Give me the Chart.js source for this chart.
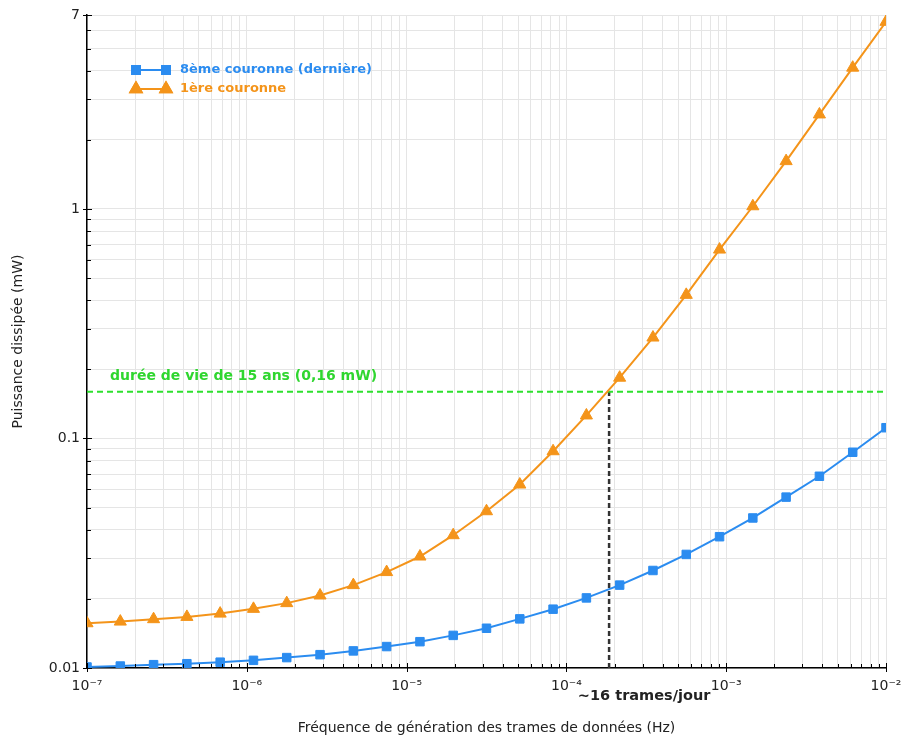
<!DOCTYPE html>
<html lang="fr">
<head>
<meta charset="utf-8">
<title>Puissance dissipée selon la fréquence des trames</title>
<script src="https://cdn.jsdelivr.net/npm/chart.js@4/dist/chart.umd.min.js"></script>
<style>
  html, body { margin: 0; padding: 0; background: #fff; }
  #wrap { width: 905px; height: 741px; }
</style>
</head>
<body>
<div id="wrap"><canvas id="chart" width="905" height="741"></canvas></div>
<script>
// frequency of data frames (Hz), one point every ~0.21 decade
const frequencies = [
  1e-7, 1.616e-7, 2.610e-7, 4.217e-7, 6.813e-7,
  1.101e-6, 1.778e-6, 2.873e-6, 4.642e-6, 7.499e-6,
  1.212e-5, 1.957e-5, 3.162e-5, 5.109e-5, 8.254e-5,
  1.334e-4, 2.154e-4, 3.481e-4, 5.623e-4, 9.085e-4,
  1.468e-3, 2.371e-3, 3.831e-3, 6.190e-3, 1e-2
];

// dissipated power (mW)
const lastRing = [
  0.0101, 0.0102, 0.01034, 0.01044, 0.0106,
  0.0108, 0.0111, 0.01143, 0.01187, 0.0124,
  0.01302, 0.01387, 0.0149, 0.01637, 0.01804,
  0.0202, 0.02297, 0.0266, 0.03125, 0.03733,
  0.04505, 0.05553, 0.06845, 0.0871, 0.1114
];
const firstRing = [
  0.01567, 0.01593, 0.01632, 0.0167, 0.01726,
  0.0181, 0.01917, 0.0207, 0.02297, 0.02618,
  0.0306, 0.0379, 0.0482, 0.063, 0.088,
  0.126, 0.184, 0.2753, 0.4225, 0.6654,
  1.0276, 1.616, 2.581, 4.127, 6.537
];

const seriesNames = ['8ème couronne (dernière)', '1ère couronne'];
const lifetimeLimit = 0.16;        // mW, 15 years
const limitFrequency = 1.85e-4;    // Hz, ~16 frames per day
const lifetimeLabel = 'durée de vie de 15 ans (0,16 mW)';
const limitLabel = '~16 trames/jour';

const xMajorTicks = [1e-7, 1e-6, 1e-5, 1e-4, 1e-3, 1e-2];
const xTickLabels = ['10⁻⁷', '10⁻⁶', '10⁻⁵', '10⁻⁴', '10⁻³', '10⁻²'];
const yMajorTicks = [0.01, 0.1, 1, 7];
const yTickLabels = ['0.01', '0.1', '1', '7'];

const BLUE = '#2b8cf0';
const ORANGE = '#f4941a';
const GREEN = '#2ee02e';
const FONT = '"DejaVu Sans", Verdana, sans-serif';

// 1..9 x 10^e grid positions between min and max
function logGrid(min, max) {
  const out = [];
  for (let e = Math.floor(Math.log10(min)); e <= Math.ceil(Math.log10(max)); e++) {
    for (let d = 1; d <= 9; d++) {
      const v = Number((d * Math.pow(10, e)).toPrecision(3));
      if (v >= min * 0.999 && v <= max * 1.001) out.push(v);
    }
  }
  return out;
}
const xGrid = logGrid(1e-7, 1e-2);
const yGrid = logGrid(0.01, 7);

function majorIndex(list, v) {
  return list.findIndex(m => Math.abs(m - v) / m < 1e-6);
}

const toPoints = (vals) => frequencies.map((f, i) => ({ x: f, y: vals[i] }));

// axis tick marks drawn inside the frame, annotations and legend
const overlay = {
  id: 'overlay',
  afterDatasetsDraw(chart) {
    const { ctx, chartArea: a, scales: { x, y } } = chart;
    ctx.save();
    ctx.strokeStyle = '#000';
    ctx.lineWidth = 1;
    xGrid.forEach(v => {
      const px = Math.round(x.getPixelForValue(v)) + 0.5;
      const major = majorIndex(xMajorTicks, v) >= 0;
      ctx.beginPath();
      ctx.moveTo(px, a.bottom + (major ? 4 : 0));
      ctx.lineTo(px, a.bottom - (major ? 5 : 4));
      ctx.stroke();
    });
    yGrid.forEach(v => {
      const py = Math.round(y.getPixelForValue(v)) + 0.5;
      const major = majorIndex(yMajorTicks, v) >= 0;
      ctx.beginPath();
      ctx.moveTo(a.left - (major ? 4 : 0), py);
      ctx.lineTo(a.left + (major ? 5 : 4), py);
      ctx.stroke();
    });

    // reference labels
    ctx.textBaseline = 'middle';
    ctx.textAlign = 'left';
    ctx.font = 'bold 14px ' + FONT;
    ctx.fillStyle = '#2fd62f';
    ctx.fillText(lifetimeLabel, a.left + 23, y.getPixelForValue(lifetimeLimit) - 15);

    ctx.textAlign = 'center';
    ctx.font = 'bold 14.5px ' + FONT;
    ctx.fillStyle = '#222';
    ctx.fillText(limitLabel, x.getPixelForValue(limitFrequency) + 35, a.bottom + 28);

    // legend
    const items = [
      { name: seriesNames[0], color: BLUE, style: 'rect', r: 5.5, yy: 70 },
      { name: seriesNames[1], color: ORANGE, style: 'triangle', r: 6.5, yy: 89 }
    ];
    ctx.font = 'bold 13px ' + FONT;
    ctx.textAlign = 'left';
    items.forEach(it => {
      ctx.strokeStyle = it.color;
      ctx.lineWidth = 2;
      ctx.beginPath();
      ctx.moveTo(136, it.yy);
      ctx.lineTo(166, it.yy);
      ctx.stroke();
      [136, 166].forEach(cx => {
        Chart.helpers.drawPoint(ctx, { pointStyle: it.style, radius: it.r, borderWidth: 1 }, cx, it.yy);
        ctx.fillStyle = it.color;
        ctx.fill();
        ctx.stroke();
      });
      ctx.fillStyle = it.color;
      ctx.fillText(it.name, 180, it.yy);
    });
    ctx.restore();
  }
};

new Chart(document.getElementById('chart'), {
  type: 'line',
  data: {
    datasets: [
      {
        label: 'limite',
        data: [{ x: 1e-7, y: lifetimeLimit }, { x: 1e-2, y: lifetimeLimit }],
        borderColor: GREEN,
        borderWidth: 2,
        borderDash: [6, 4],
        pointRadius: 0,
        order: 3
      },
      {
        label: 'fréquence limite',
        data: [{ x: limitFrequency, y: 0.01 }, { x: limitFrequency, y: lifetimeLimit }],
        borderColor: '#333',
        borderWidth: 2.5,
        borderDash: [5, 3],
        pointRadius: 0,
        order: 3
      },
      {
        label: seriesNames[0],
        data: toPoints(lastRing),
        borderColor: BLUE,
        backgroundColor: BLUE,
        borderWidth: 2,
        pointStyle: 'rect',
        pointRadius: 6,
        pointBorderWidth: 1,
        order: 1
      },
      {
        label: seriesNames[1],
        data: toPoints(firstRing),
        borderColor: ORANGE,
        backgroundColor: ORANGE,
        borderWidth: 2,
        pointStyle: 'triangle',
        pointRadius: 7,
        pointBorderWidth: 1,
        order: 2
      }
    ]
  },
  options: {
    responsive: false,
    animation: false,
    layout: { padding: { top: 15, right: 19, bottom: 0, left: 0 } },
    plugins: { legend: { display: false }, tooltip: { enabled: false } },
    scales: {
      x: {
        type: 'logarithmic',
        min: 1e-7,
        max: 1e-2,
        afterBuildTicks: (s) => { s.ticks = xGrid.map(v => ({ value: v })); },
        afterFit: (s) => { s.height = 73; s.paddingLeft = 0; s.paddingRight = 0; },
        grid: { color: '#e5e5e5', drawTicks: false },
        border: { color: '#000', width: 1.5 },
        ticks: {
          autoSkip: false,
          maxRotation: 0,
          padding: 10,
          color: '#222',
          font: { family: FONT, size: 14 },
          callback: (v) => { const i = majorIndex(xMajorTicks, v); return i >= 0 ? xTickLabels[i] : ''; }
        },
        title: {
          display: true,
          text: 'Fréquence de génération des trames de données (Hz)',
          color: '#222',
          font: { family: FONT, size: 14 },
          padding: { top: 0, bottom: 4 }
        }
      },
      y: {
        type: 'logarithmic',
        min: 0.01,
        max: 7,
        afterBuildTicks: (s) => { s.ticks = yGrid.map(v => ({ value: v })); },
        afterFit: (s) => { s.width = 87; s.paddingTop = 0; s.paddingBottom = 0; },
        grid: { color: '#e5e5e5', drawTicks: false },
        border: { color: '#000', width: 1.5 },
        ticks: {
          autoSkip: false,
          padding: 7,
          color: '#222',
          font: { family: FONT, size: 14 },
          callback: (v) => { const i = majorIndex(yMajorTicks, v); return i >= 0 ? yTickLabels[i] : ''; }
        },
        title: {
          display: true,
          text: 'Puissance dissipée (mW)',
          color: '#222',
          font: { family: FONT, size: 14 },
          padding: { top: 10, bottom: 0 }
        }
      }
    }
  },
  plugins: [overlay]
});
</script>
</body>
</html>
